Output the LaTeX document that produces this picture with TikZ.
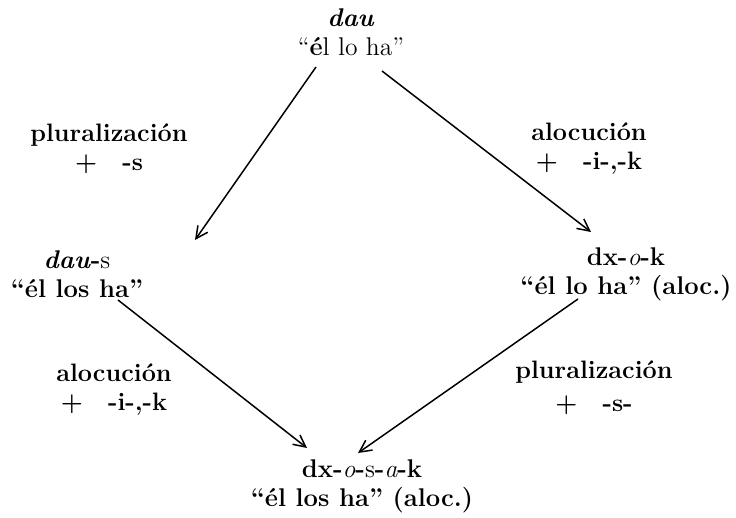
\documentclass[tikz,border=0pt]{standalone}
\usepackage{tikz}
\usetikzlibrary{positioning, arrows.meta}

\tikzset{
  form/.style={align=center, font=\fontsize{12.8}{14.5}\selectfont\bfseries, inner sep=3pt},
  rule/.style={align=center, font=\fontsize{12.6}{14.5}\selectfont\bfseries},
  derive/.style={-{Straight Barb[length=6pt,width=6pt]}, line width=0.75pt}
}

\begin{document}
\begin{tikzpicture}[x=0.5pt, y=-0.5pt]
    \useasboundingbox (0,0) rectangle (736,518);
    % forms
    \node[form] (base) at (351,32) {\textit{dau}\\{\mdseries``\textbf{é}l lo ha''}};
    \node[form] (plur) at (77,274) {\textit{dau}-{\mdseries s}\\``él los ha''};
    \node[form] (aloc) at (626,274) {dx-{\mdseries\itshape o}-k\\``él lo ha'' (aloc.)};
    \node[form] (both) at (362,486) {dx-{\mdseries\itshape o}-{\mdseries s}-{\mdseries\itshape a}-k\\``él los ha'' (aloc.)};
    % rules
    \node[rule] at (109,149) {pluralización\\+\quad -s};
    \node[rule] at (589,149) {alocución\\+\quad -i-,-k};
    \node[rule] at (114,390) {alocución\\+\quad -i-,-k};
    \node[rule] at (594,388) {pluralización\\[2pt]+\quad -s-};
    % arrows
    \draw[derive] ([shift={(-35,35)}]base.center) -- ([shift={(118,-34)}]plur.center);
    \draw[derive] ([shift={(31,39)}]base.center) -- ([shift={(-35,-42)}]aloc.center);
    \draw[derive] ([shift={(41,26)}]plur.center) -- ([shift={(-55,-38)}]both.center);
    \draw[derive] ([shift={(-48,25)}]aloc.center) -- ([shift={(-4,-33)}]both.center);
  \end{tikzpicture}
\end{document}
